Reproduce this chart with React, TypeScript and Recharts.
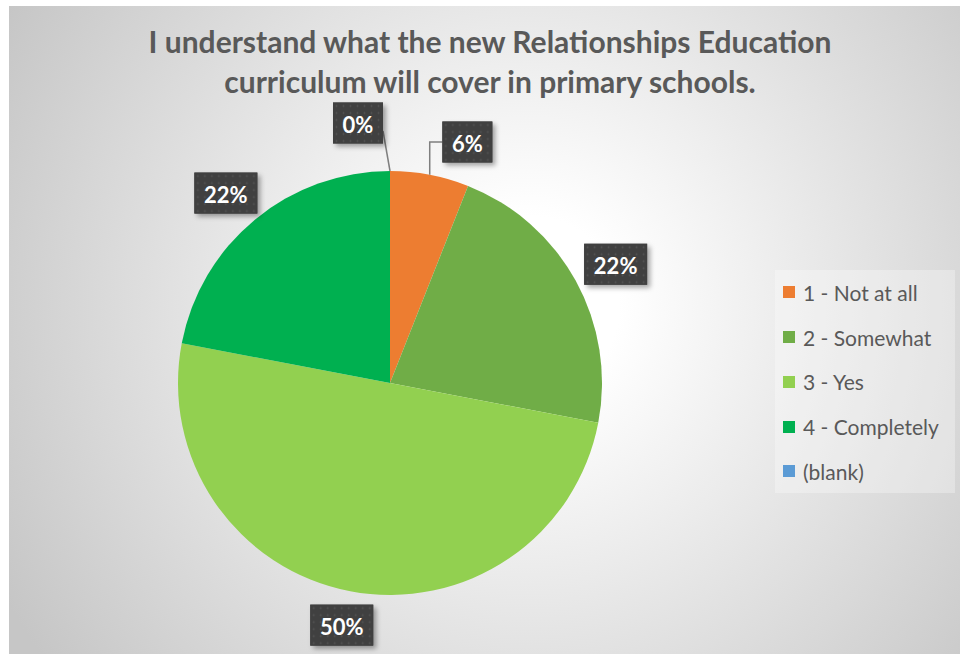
import React from "react";
import { PieChart, Pie, Cell, Legend } from "recharts";

const categories = ["1 - Not at all", "2 - Somewhat", "3 - Yes", "4 - Completely", "(blank)"];
const shares = [6, 22, 50, 22, 0];
const colors = ["#ED7D31", "#70AD47", "#92D050", "#00B050", "#5B9BD5"];

const chartData = categories.map((name, i) => ({ name, value: shares[i] }));

const RAD = Math.PI / 180;

const renderLabel = (props: any) => {
  const { cx, cy, midAngle, outerRadius, value, index } = props;
  const text = `${value}%`;
  const w = text.length > 2 ? 63 : 50;
  const h = 41;
  const cos = Math.cos(midAngle * RAD);
  const sin = Math.sin(midAngle * RAD);
  const r = outerRadius + 14;
  const ax = cx + r * cos;
  const ay = cy - r * sin;

  // box sits just outside the anchor, on the side facing away from the pie
  let bx = ax + cos * (w / 2) - w / 2;
  let by = ay - sin * (h / 2) - h / 2;
  let line: string | null = null;
  if (value < 10) {
    // small slices get their box pushed aside with a leader line
    const ex = cx + outerRadius * cos;
    const ey = cy - outerRadius * sin;
    if (cos > 0.01) {
      bx = ax + 10;
      by = ay - h / 2 - 19;
      line = `M${ex},${ey} L${ex},${by + h / 2} L${bx},${by + h / 2}`;
    } else {
      bx = ax - w - 7;
      by = ay - h / 2 - 34;
      line = `M${ex},${ey} L${bx + w},${by + h / 2 + 8}`;
    }
  }

  return (
    <g key={`lbl-${index}`}>
      <defs>
        <filter id={`shadow-${index}`} x="-20%" y="-20%" width="150%" height="160%">
          <feDropShadow dx="3" dy="3" stdDeviation="2.5" floodColor="#000" floodOpacity="0.35" />
        </filter>
        <pattern id={`dots-${index}`} x={bx} y={by} width="7" height="7" patternUnits="userSpaceOnUse">
          <rect width="7" height="7" fill="#404040" />
          <circle cx="3.5" cy="3.5" r="0.9" fill="#555555" />
        </pattern>
      </defs>
      {line && <path d={line} stroke="#7f7f7f" strokeWidth={1.5} fill="none" />}
      <rect x={bx} y={by} width={w} height={h} fill="#404040" filter={`url(#shadow-${index})`} />
      <rect x={bx} y={by} width={w} height={h} fill={`url(#dots-${index})`} />
      <text
        x={bx + w / 2}
        y={by + h / 2 + 1}
        textAnchor="middle"
        dominantBaseline="central"
        fill="#ffffff"
        fontSize={22}
        fontWeight={700}
        fontFamily="Lato, 'Open Sans', sans-serif"
      >
        {text}
      </text>
    </g>
  );
};

const LegendBox = ({ payload }: any) => {
  const items = [...(payload || [])].sort(
    (a: any, b: any) => categories.indexOf(a.value) - categories.indexOf(b.value)
  );
  return (
    <div style={{ background: "rgba(255,255,255,0.3)", width: 180, height: 223, boxSizing: "border-box", paddingTop: 0 }}>
      {items.map((p: any, i: number) => (
        <div key={i} style={{ display: "flex", alignItems: "center", height: 44.75, paddingLeft: 8, marginTop: i === 0 ? -2 : 0 }}>
          <span style={{ width: 12, height: 12, background: p.color, marginRight: 8, display: "inline-block" }} />
          <span style={{ fontSize: 21, color: "#595959", fontFamily: "Lato, 'Open Sans', sans-serif" }}>{p.value}</span>
        </div>
      ))}
    </div>
  );
};

export default function App() {
  return (
    <div style={{ position: "absolute", left: 0, top: 0, width: 960, height: 654, background: "#ffffff", overflow: "hidden" }}>
      <div
        style={{
          position: "absolute",
          left: 9,
          top: 6,
          width: 951,
          height: 648,
          background: "radial-gradient(circle at 520px 300px, #ffffff 0px, #ffffff 90px, #c6c6c6 600px)",
        }}
      >
        <div
          style={{
            position: "absolute",
            left: -9,
            top: 15,
            width: 980,
            textAlign: "center",
            fontFamily: "Lato, 'Open Sans', sans-serif",
            fontWeight: 700,
            fontSize: 30,
            lineHeight: "40px",
            color: "#595959",
          }}
        >
          I understand what the new Relationships Education
          <br />
          curriculum will cover in primary schools.
        </div>
        <PieChart width={951} height={648} style={{ position: "absolute", left: 0, top: 0 }}>
          <Pie
            data={chartData}
            dataKey="value"
            nameKey="name"
            cx={376}
            cy={372}
            outerRadius={212}
            startAngle={90}
            endAngle={-270}
            stroke="none"
            label={renderLabel}
            labelLine={false}
            isAnimationActive={false}
          >
            {chartData.map((d, i) => (
              <Cell key={d.name} fill={colors[i]} />
            ))}
          </Pie>
          <Legend
            layout="vertical"
            content={<LegendBox />}
            wrapperStyle={{ position: "absolute", left: 766, top: 266, width: 180 }}
          />
        </PieChart>
      </div>
    </div>
  );
}
